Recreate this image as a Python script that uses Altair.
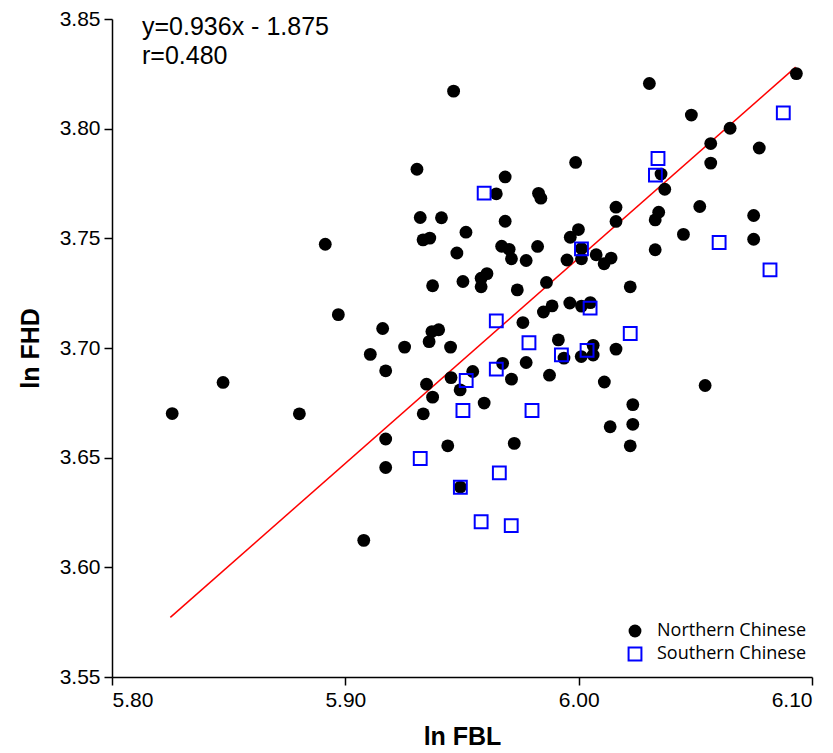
import altair as alt
import pandas as pd

# ln FBL / ln FHD measurements for the two population groups
north_fbl = [5.8258, 5.8476, 5.8803, 5.8914, 5.8970, 5.9079, 5.9107, 5.9160, 5.9173, 5.9173,
             5.9173, 5.9254, 5.9307, 5.9321, 5.9412, 5.9333, 5.9362, 5.9334, 5.9348, 5.9359,
             5.9371, 5.9400, 5.9374, 5.9374, 5.9439, 5.9451, 5.9453, 5.9464, 5.9478, 5.9492,
             5.9493, 5.9504, 5.9517, 5.9546, 5.9582, 5.9607, 5.9582, 5.9595, 5.9685, 5.9647,
             5.9685, 5.9670, 5.9702, 5.9712, 5.9775, 5.9824, 5.9828, 5.9838, 5.9737, 5.9862,
             5.9761, 5.9674, 5.9775, 5.9712, 5.9724, 5.9849, 5.9886, 5.9875, 5.9913, 5.9937,
             5.9950, 5.9964, 5.9999, 5.9987, 6.0012, 6.0012, 5.9962, 6.0012, 6.0050, 6.0011,
             6.0062, 6.0062, 6.0075, 6.0109, 6.0139, 6.0110, 6.0135, 6.0160, 6.0160, 6.0160,
             6.0221, 6.0232, 6.0232, 6.0221, 6.0303, 6.0328, 6.0328, 6.0343, 6.0353, 6.0369,
             6.0449, 6.0483, 6.0519, 6.0542, 6.0566, 6.0566, 6.0649, 6.0750, 6.0750, 6.0774,
             6.0933]
north_fhd = [3.6701, 3.6843, 3.6700, 3.7473, 3.7152, 3.6123, 3.6971, 3.7089, 3.6896, 3.6585,
             3.6455, 3.7004, 3.7815, 3.7595, 3.7594, 3.7493, 3.7501, 3.6700, 3.6835, 3.7029,
             3.7075, 3.7083, 3.7284, 3.6776, 3.6554, 3.7004, 3.6865, 3.8171, 3.7433, 3.6809,
             3.6366, 3.7303, 3.7528, 3.6893, 3.7318, 3.7339, 3.7279, 3.6749, 3.7780, 3.7703,
             3.7578, 3.7464, 3.7450, 3.7407, 3.7399, 3.7463, 3.7705, 3.7683, 3.7265, 3.7299,
             3.7116, 3.6930, 3.6934, 3.6858, 3.6565, 3.7164, 3.7192, 3.6876, 3.7037, 3.6954,
             3.7401, 3.7505, 3.7540, 3.7846, 3.7454, 3.7407, 3.7205, 3.7191, 3.7207, 3.6961,
             3.7012, 3.6968, 3.7425, 3.7384, 3.7410, 3.6845, 3.6641, 3.7642, 3.7577, 3.6995,
             3.7279, 3.6742, 3.6652, 3.6554, 3.8206, 3.7448, 3.7584, 3.7619, 3.7793, 3.7724,
             3.7518, 3.8062, 3.7645, 3.6829, 3.7932, 3.7843, 3.8002, 3.7604, 3.7496, 3.7912,
             3.8251]

south_fbl = [5.9321, 5.9493, 5.9504, 5.9518, 5.9582, 5.9595, 5.9647, 5.9647, 5.9660, 5.9711,
             5.9787, 5.9800, 5.9926, 6.0012, 6.0036, 6.0049, 6.0221, 6.0329, 6.0340, 6.0602,
             6.0820, 6.0877]
south_fhd = [3.6496, 3.6365, 3.6715, 3.6852, 3.6208, 3.7706, 3.7124, 3.6904, 3.6431, 3.6190,
             3.7024, 3.6715, 3.6969, 3.7452, 3.6989, 3.7182, 3.7066, 3.7788, 3.7864, 3.7481,
             3.7356, 3.8072]

groups = ["Northern Chinese", "Southern Chinese"]

# fitted line y = 0.936x - 1.875 over the observed FBL range
slope, intercept = 0.936, -1.875
fit_x = [5.825, 6.093]

x_ticks = [5.80, 5.90, 6.00, 6.10]
y_ticks = [3.55, 3.60, 3.65, 3.70, 3.75, 3.80, 3.85]
annotation = ["y=0.936x - 1.875", "r=0.480"]

df = pd.DataFrame({
    "fbl": north_fbl + south_fbl,
    "fhd": north_fhd + south_fhd,
    "group": [groups[0]] * len(north_fbl) + [groups[1]] * len(south_fbl),
})
fit_df = pd.DataFrame({"fbl": fit_x})

x_scale = alt.Scale(domain=[5.80, 6.10], nice=False, zero=False)
y_scale = alt.Scale(domain=[3.55, 3.85], nice=False, zero=False)

legend = alt.Legend(
    title=None, orient="none", legendX=514, legendY=603,
    labelFont="Open Sans", labelFontSize=18, labelColor="black",
    symbolSize=165, symbolStrokeWidth=2, rowPadding=1, labelOffset=13, padding=0,
)

points = alt.Chart(df).mark_point(size=165, strokeWidth=2, opacity=1).encode(
    x=alt.X("fbl:Q", scale=x_scale,
            axis=alt.Axis(values=x_ticks, format=".2f", title="ln FBL")),
    y=alt.Y("fhd:Q", scale=y_scale,
            axis=alt.Axis(values=y_ticks, format=".2f", title="ln FHD")),
    shape=alt.Shape("group:N", scale=alt.Scale(domain=groups, range=["circle", "square"]),
                    legend=legend),
    fill=alt.Fill("group:N", scale=alt.Scale(domain=groups, range=["#000000", "transparent"]),
                  legend=legend),
    stroke=alt.Stroke("group:N", scale=alt.Scale(domain=groups, range=["transparent", "#0000ff"]),
                      legend=legend),
)

fit_line = alt.Chart(fit_df).transform_calculate(
    fhd=f"{slope} * datum.fbl + ({intercept})"
).mark_line(color="#ff0000", strokeWidth=1.5).encode(
    x=alt.X("fbl:Q", scale=x_scale),
    y=alt.Y("fhd:Q", scale=y_scale),
)

text_style = dict(align="left", baseline="alphabetic", font="Liberation Sans",
                  fontSize=25, color="black")
eq_text = alt.Chart().mark_text(text=annotation[0], **text_style).encode(
    x=alt.value(30), y=alt.value(15.5))
r_text = alt.Chart().mark_text(text=annotation[1], **text_style).encode(
    x=alt.value(30), y=alt.value(44.5))

chart = alt.layer(fit_line, points, eq_text, r_text).properties(
    width=700, height=658,
    padding={"left": 112, "top": 19, "right": 21, "bottom": 76},
    autosize="none",
).configure_view(stroke=None).configure_axis(
    grid=False,
    domainColor="black", domainWidth=1.5,
    tickColor="black", tickWidth=1.5, tickSize=8,
    labelFont="Liberation Sans", labelFontSize=21, labelColor="black", labelPadding=4,
    titleFont="Liberation Sans", titleFontSize=25, titleFontWeight="bold", titleColor="black",
).configure_axisX(titlePadding=14).configure_axisY(titlePadding=16)

chart.save("out.html", embed_options={"renderer": "svg", "actions": False})
